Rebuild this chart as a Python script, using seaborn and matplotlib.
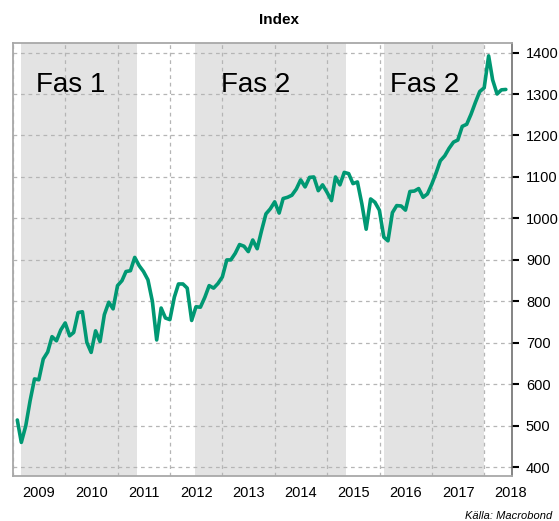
import numpy as np
import pandas as pd
import matplotlib
matplotlib.use("Agg")
import matplotlib.pyplot as plt
import matplotlib.dates as mdates
import seaborn as sns

# monthly index values, Jan 2009 - May 2018
index_values = [
    514, 460, 500, 560, 613, 611, 661, 678, 715, 705, 731, 748,
    717, 725, 773, 775, 701, 677, 729, 703, 768, 798, 782, 838,
    850, 872, 874, 906, 886, 872, 852, 800, 707, 784, 760, 756,
    810, 842, 842, 832, 754, 787, 786, 810, 838, 832, 843, 859,
    900, 900, 916, 937, 933, 920, 948, 927, 970, 1011, 1023, 1040,
    1013, 1048, 1051, 1056, 1071, 1093, 1076, 1099, 1100, 1067, 1081, 1063,
    1043, 1100, 1081, 1111, 1108, 1084, 1088, 1035, 974, 1047, 1039, 1020,
    955, 946, 1014, 1031, 1030, 1020, 1065, 1066, 1072, 1051, 1059, 1083,
    1111, 1139, 1151, 1169, 1184, 1189, 1222, 1227, 1251, 1280, 1306, 1315,
    1392, 1334, 1300, 1310, 1311,
]
dates = pd.date_range("2009-01-31", periods=len(index_values), freq="ME")

# shaded phases
phase_starts = ["2009-03-01", "2012-06-22", "2016-02-01"]
phase_ends = ["2011-05-14", "2015-05-10", "2018-01-01"]
phase_labels = ["Fas 1", "Fas 2", "Fas 2"]
phase_label_pos = ["2010-02-07", "2013-08-20", "2016-11-12"]

years = list(range(2009, 2019))
yticks = list(range(400, 1401, 100))

df = pd.DataFrame({"date": dates, "Index": index_values})

sns.set_style("white")
plt.rcParams["font.family"] = ["Liberation Sans", "DejaVu Sans"]
plt.rcParams["text.color"] = "black"
plt.rcParams["xtick.labelcolor"] = "black"
plt.rcParams["ytick.labelcolor"] = "black"

fig = plt.figure(figsize=(5.59, 5.21), dpi=100)
ax = fig.add_axes([13 / 559, 1 - 476 / 521, (512 - 13) / 559, (476 - 43) / 521])

for s, e in zip(phase_starts, phase_ends):
    ax.axvspan(pd.Timestamp(s), pd.Timestamp(e), color="#e3e3e3", lw=0, zorder=0)

sns.lineplot(data=df, x="date", y="Index", ax=ax, color="#009873", linewidth=2.6, zorder=3)

for lab, pos in zip(phase_labels, phase_label_pos):
    ax.text(pd.Timestamp(pos), 1322, lab, fontsize=20, ha="center", va="center",
            color="black", zorder=4)

ax.set_xlim(pd.Timestamp("2009-01-01"), pd.Timestamp("2018-07-13"))
ax.set_ylim(379, 1423)

# axes styling
ax.yaxis.tick_right()
ax.set_yticks(yticks)
ax.tick_params(axis="y", which="major", direction="out", length=5, width=1.5,
               color="black", labelcolor="black", labelsize=10.5, pad=5)
ax.xaxis.set_major_locator(mdates.YearLocator())
ax.xaxis.set_major_formatter(plt.NullFormatter())
ax.set_xticks([pd.Timestamp(f"{y}-07-02") for y in years], minor=True)
ax.set_xticklabels([str(y) for y in years], minor=True)
ax.tick_params(axis="x", which="major", direction="out", length=5, width=1.5, color="black")
ax.tick_params(axis="x", which="minor", length=0, labelsize=10.5, labelcolor="black", pad=7)

ax.grid(True, which="major", color="#b5b5b5", linestyle=(0, (3, 3)), linewidth=0.9)
ax.set_axisbelow(True)
for side in ["left", "top", "bottom"]:
    ax.spines[side].set_color("#a8a8a8")
    ax.spines[side].set_linewidth(1.3)
ax.spines["right"].set_color("#707070")
ax.spines["right"].set_linewidth(1.2)
ax.set_xlabel("")
ax.set_ylabel("")

fig.text(0.5, 1 - 20 / 521, "Index", fontsize=11, fontweight="bold", ha="center",
         va="center", color="black")
fig.text(552 / 559, 1 - 516 / 521, "Källa: Macrobond", fontsize=8, style="italic",
         ha="right", va="center", color="black")

fig.savefig("out.png", dpi=100)
